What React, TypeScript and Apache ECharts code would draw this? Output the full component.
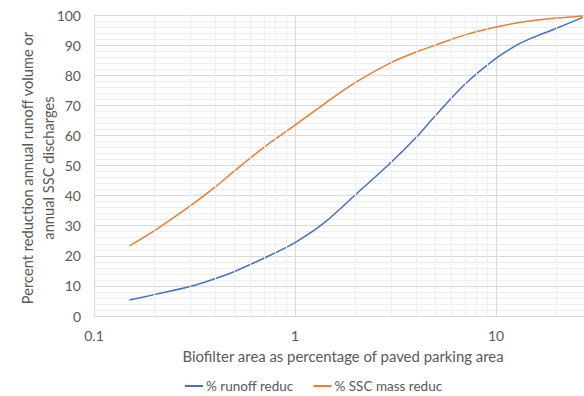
import React, { useEffect, useRef } from "react";
import * as echarts from "echarts";

// Biofilter area as % of paved parking area (log scale)
const areaPct = [0.15, 0.2, 0.3, 0.4, 0.5, 0.7, 1, 1.4, 2, 3, 4, 5, 7, 10, 13, 15, 20, 27];

// % reduction of annual runoff volume
const runoffReduc = [5.3, 7.1, 9.8, 12.4, 14.8, 19.2, 24.4, 31.0, 40.3, 51.0, 59.3, 66.6, 77.0, 85.6, 90.4, 92.3, 95.6, 99.2];

// % reduction of annual SSC mass discharge
const sscReduc = [23.3, 28.4, 36.5, 42.8, 48.2, 56.0, 63.4, 70.5, 77.6, 84.2, 87.7, 90.0, 93.4, 96.0, 97.5, 98.1, 99.0, 99.7];

// Minor vertical gridlines of the log axis
const minorXLines = [0.2, 0.3, 0.4, 0.5, 0.6, 0.7, 0.8, 0.9, 2, 3, 4, 5, 6, 7, 8, 9, 20];

const seriesNames = ["% runoff reduc", "% SSC mass reduc"];
const xTitle = "Biofilter area as percentage of paved parking area";
const yTitle = "Percent reduction annual runoff volume or\nannual SSC discharges";

const FONT = "Lato";
const TEXT = "#595959";

export default function App() {
  const ref = useRef<HTMLDivElement>(null);

  useEffect(() => {
    if (!ref.current) return;
    const chart = echarts.init(ref.current, null, { renderer: "svg" });
    const pair = (ys: number[]) => areaPct.map((x, i) => [x, ys[i]]);

    chart.setOption({
      animation: false,
      backgroundColor: "#ffffff",
      textStyle: { fontFamily: FONT, color: TEXT },
      grid: { left: 94, right: 0, top: 15, bottom: 80, containLabel: false },
      xAxis: {
        type: "log",
        logBase: 10,
        min: 0.1,
        max: 27.4,
        axisLine: { show: true, lineStyle: { color: "#d9d9d9" } },
        axisTick: { show: false },
        axisLabel: {
          color: TEXT,
          fontSize: 14,
          fontFamily: FONT,
          margin: 12,
          showMaxLabel: false,
          formatter: (v: number) => String(+v.toPrecision(3)),
        },
        splitLine: { show: true, lineStyle: { color: "#d9d9d9" } },
      },
      yAxis: {
        type: "value",
        min: 0,
        max: 100,
        interval: 10,
        axisLine: { show: true, lineStyle: { color: "#d9d9d9" } },
        axisTick: { show: false },
        axisLabel: { color: TEXT, fontSize: 14, fontFamily: FONT, margin: 13 },
        splitLine: { show: true, lineStyle: { color: "#d9d9d9" } },
        minorTick: { show: false, splitNumber: 5 },
        minorSplitLine: { show: true, lineStyle: { color: "#efefef" } },
      },
      legend: {
        data: seriesNames,
        left: 180,
        top: 374,
        icon: "rect",
        itemWidth: 18,
        itemHeight: 2,
        itemGap: 20,
        textStyle: { color: TEXT, fontSize: 13.5, fontFamily: FONT, padding: [0, 0, 0, -2] },
      },
      graphic: [
        {
          type: "text",
          x: 37.5,
          y: 168,
          rotation: Math.PI / 2,
          style: {
            text: yTitle,
            fill: TEXT,
            font: `14.7px ${FONT}`,
            align: "center",
            verticalAlign: "middle",
            lineHeight: 21,
          },
        },
        {
          type: "text",
          x: 343,
          y: 356,
          style: {
            text: xTitle,
            fill: TEXT,
            font: `14.9px ${FONT}`,
            align: "center",
            verticalAlign: "middle",
          },
        },
      ],
      series: [
        {
          name: "minor-grid",
          type: "line",
          data: [],
          z: 1,
          silent: true,
          markLine: {
            silent: true,
            symbol: ["none", "none"],
            label: { show: false },
            lineStyle: { color: "#efefef", type: "solid", width: 1 },
            data: minorXLines.map((x) => ({ xAxis: x })),
          },
        },
        {
          name: seriesNames[0],
          type: "line",
          data: pair(runoffReduc),
          smooth: 0.3,
          symbol: "none",
          z: 3,
          lineStyle: { color: "#4472c4", width: 1.5 },
          itemStyle: { color: "#4472c4" },
        },
        {
          name: seriesNames[1],
          type: "line",
          data: pair(sscReduc),
          smooth: 0.3,
          symbol: "none",
          z: 3,
          lineStyle: { color: "#ed7d31", width: 1.5 },
          itemStyle: { color: "#ed7d31" },
        },
      ],
    });

    return () => chart.dispose();
  }, []);

  return (
    <div
      ref={ref}
      style={{ position: "absolute", left: 0, top: 0, width: 584, height: 396 }}
    />
  );
}
